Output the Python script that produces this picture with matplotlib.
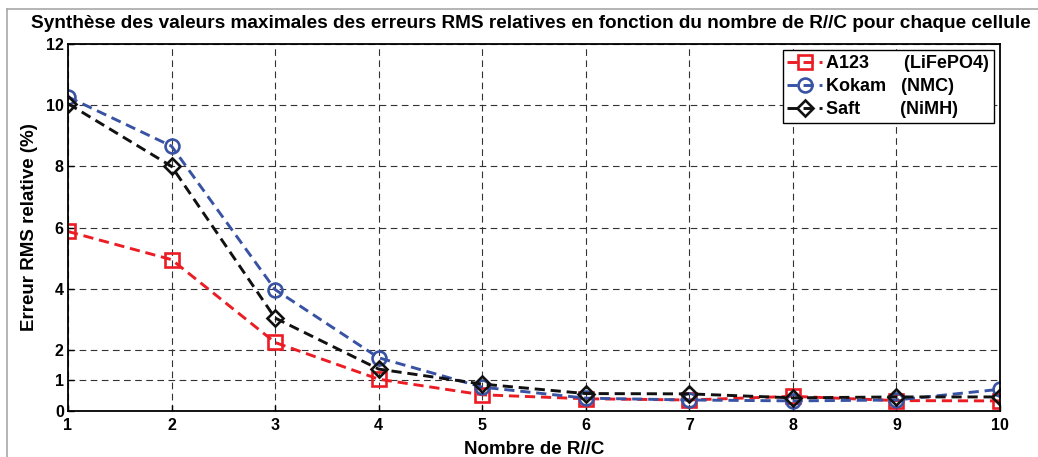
import matplotlib
matplotlib.use('Agg')
import matplotlib.pyplot as plt
from matplotlib.lines import Line2D

plt.rcParams['font.family'] = ['Liberation Sans', 'DejaVu Sans']
plt.rcParams['font.weight'] = 'bold'

# donnees
nb_rc = [1, 2, 3, 4, 5, 6, 7, 8, 9, 10]
a123 = [5.87, 4.95, 2.24, 1.04, 0.53, 0.40, 0.36, 0.48, 0.34, 0.33]
kokam = [10.27, 8.66, 3.97, 1.74, 0.78, 0.42, 0.36, 0.33, 0.36, 0.71]
saft = [10.05, 8.0, 3.04, 1.37, 0.88, 0.57, 0.56, 0.43, 0.46, 0.46]
yticks = [0, 1, 2, 4, 6, 8, 10, 12]
labels = ['A123       (LiFePO4)', 'Kokam   (NMC)', 'Saft        (NiMH)']

fig = plt.figure(figsize=(10.38, 4.57), dpi=100)
ax = fig.add_axes([68/1038, 1-411/457, (1000-68)/1038, (411-44)/457])

# cadre gris autour de la figure
fig.add_artist(Line2D([7/1038, 7/1038], [0, 1-9/457], color='#a8a8a8', lw=1.2))
fig.add_artist(Line2D([7/1038, 1], [1-9/457, 1-9/457], color='#a8a8a8', lw=1.2))

red = '#ec1c24'
blue = '#3953a4'
black = '#111111'
kw = dict(ls='--', lw=2.1, markersize=9.5, markeredgewidth=1.9, markerfacecolor='none',
          dashes=(3.5, 2))
ax.plot(nb_rc, a123, color=red, marker='s', markeredgecolor=red, label=labels[0], **kw)
ax.plot(nb_rc, kokam, color=blue, marker='o', markeredgecolor=blue, label=labels[1],
        **dict(kw, markersize=10))
ax.plot(nb_rc, saft, color=black, marker='D', markeredgecolor=black, label=labels[2],
        **dict(kw, markersize=8.5))

ax.set_xlim(1, 10)
ax.set_ylim(0, 12)
ax.set_xticks(nb_rc)
ax.set_yticks(yticks)
ax.tick_params(direction='in', length=4, width=1, labelsize=11.5, pad=3)
ax.tick_params(axis='x', pad=5)
for s in ax.spines.values():
    s.set_linewidth(1.3)
ax.grid(True, ls=(0, (6, 4)), color='#333333', lw=0.8)

ax.set_xlabel('Nombre de R//C', fontsize=13.5, fontweight='bold', labelpad=6)
ax.set_ylabel('Erreur RMS relative (%)', fontsize=13.5, fontweight='bold', labelpad=6)
fig.text(531/1038, 1-23/457,
         'Synthèse des valeurs maximales des erreurs RMS relatives en fonction du nombre de R//C pour chaque cellule',
         ha='center', va='center', fontsize=13.7, fontweight='bold')

leg = ax.legend(loc='upper right', fontsize=13, frameon=True, fancybox=False,
                edgecolor='black', framealpha=1, borderaxespad=0.35, handlelength=1.9,
                handletextpad=0.25, labelspacing=0.35, borderpad=0.25)
leg.get_frame().set_linewidth(1.0)

fig.savefig('out.png', dpi=100)
